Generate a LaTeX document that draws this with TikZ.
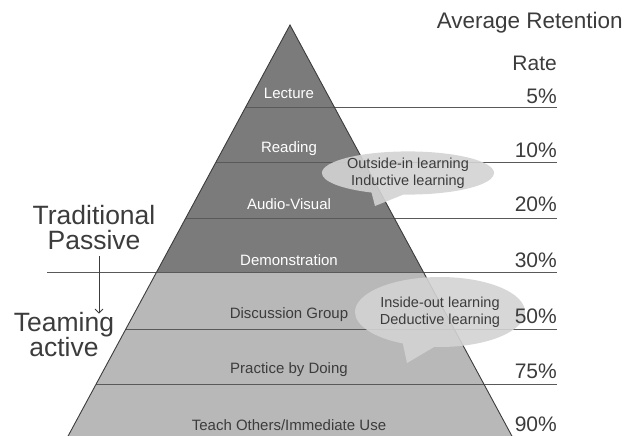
\documentclass[tikz,border=0pt]{standalone}
\usepackage{fontspec}
\setmainfont{Liberation Sans}
\usetikzlibrary{shapes.callouts, arrows.meta}
\definecolor{upperrow}{HTML}{7B7B7B}
\definecolor{lowerrow}{HTML}{B8B8B8}
\definecolor{bubble}{HTML}{D3D3D3}
\definecolor{ink}{HTML}{3C3C3C}
\newcommand{\sz}[2]{\fontsize{#1}{#2}\selectfont}

\begin{document}
\begin{tikzpicture}[x=1pt, y=-1pt, >={Straight Barb[length=4pt, width=8pt]},
  rule/.style={draw=ink!85, line width=0.8pt},
  level/.style={font=\sz{15}{15}, inner sep=0pt},
  pct/.style={font=\sz{21}{21}, text=ink, anchor=east, inner sep=0pt},
  side/.style={font=\sz{26.5}{25}, text=ink, align=center, inner sep=0pt},
  talk/.style={ellipse callout, fill=bubble, fill opacity=0.9, text opacity=1, text=ink,
    font=\sz{14.5}{17}, align=center, inner sep=0pt, minimum width=170pt, callout pointer arc=22}]
\useasboundingbox (0,0) rectangle (627,436);
\fill[upperrow] (290,25) -- (156.6,272) -- (423.4,272) -- cycle;
\fill[lowerrow] (156.6,272) -- (68.1,436) -- (511.9,436) -- (423.4,272) -- cycle;
\foreach \y in {107,162,218,329,384}
  \draw[rule] ({290-0.54*(\y-25)},\y) -- (557,\y);
\draw[rule] (47,272) -- (557,272);
\draw[ink, line width=0.9pt] (68.1,436) -- (290,25) -- (511.9,436);

\foreach \y/\t/\n in {93/Lecture/lecture, 149/Reading/reading, 204/Audio-Visual/audio, 260/Demonstration/demo}
  \node[level, text=white] (\n) at (289,\y) {\t};
\foreach \y/\t/\n in {315/Discussion Group/discussion, 370/Practice by Doing/practice, 425/{Teach Others/Immediate Use}/teach}
  \node[level, text=ink] (\n) at (289,\y) {\t};

\coordinate (tip1) at (375,206);
\coordinate (tip2) at (407,363);
\node[talk, minimum height=43pt, callout absolute pointer=(tip1)] (inductive) at (408,173) {Outside-in learning\\Inductive learning};
\node[talk, minimum height=70pt, callout absolute pointer=(tip2)] (deductive) at (440,312) {Inside-out learning\\Deductive learning};

\node[pct, font=\sz{22.5}{22}] (average) at (623,23) {Average Retention};
\node[pct] (rate) at (557,63) {Rate};
\foreach \y/\p/\n in {96/5/r5, 150/10/r10, 204/20/r20, 260/30/r30, 316/50/r50, 371/75/r75, 424/90/r90}
  \node[pct] (\n) at (557,\y) {\p\%};

\node[side] (passive) at (94,228) {Traditional\\Passive};
\node[side] (active) at (64,335) {Teaming\\active};
\draw[->, ink, line width=0.8pt] ([xshift=5pt, yshift=-6pt]passive.south) -- ([xshift=35pt, yshift=-1pt]active.north);
\end{tikzpicture}
\end{document}
